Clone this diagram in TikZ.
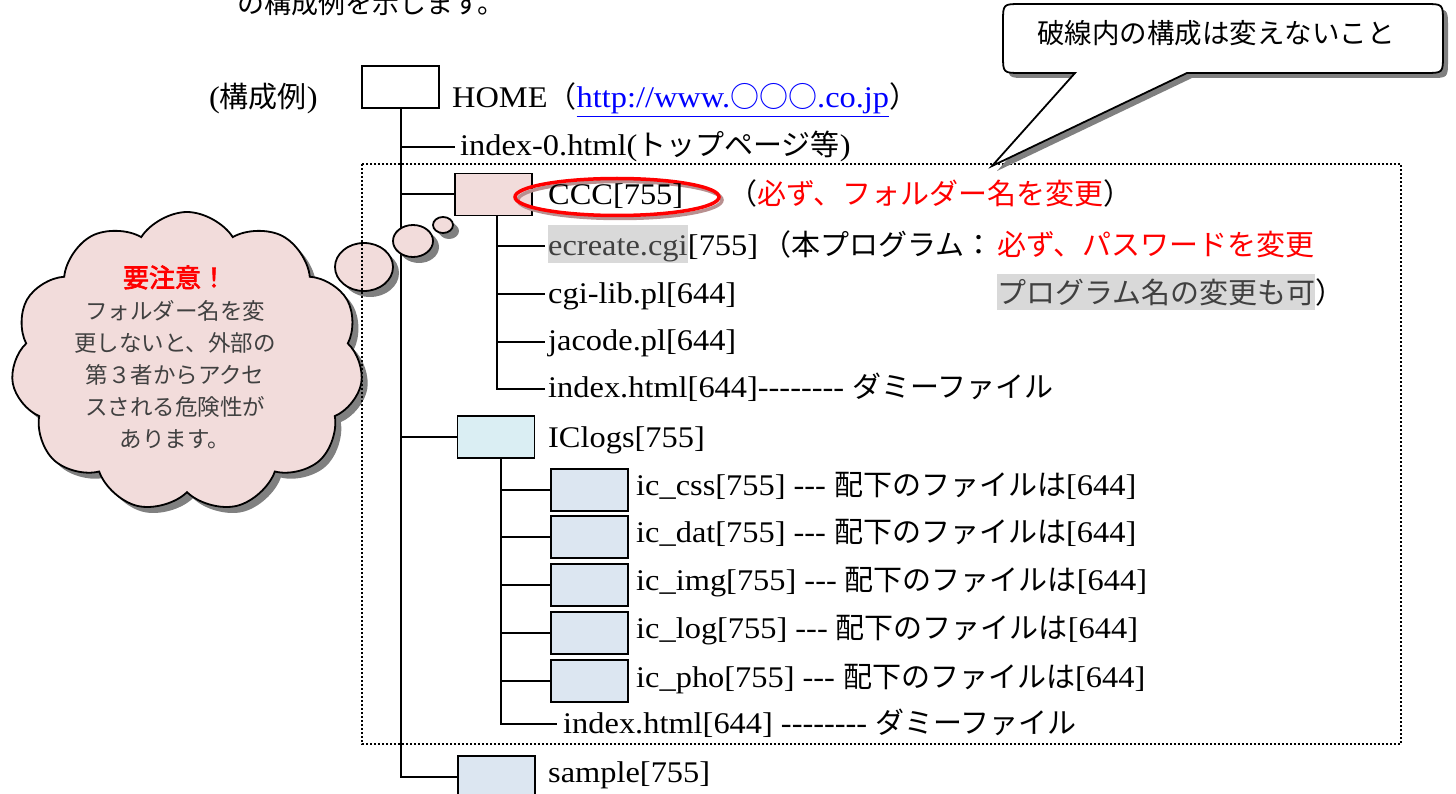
\documentclass[tikz,border=0pt]{standalone}
\usepackage{fontspec}
\setmainfont[FakeStretch=1.08]{Liberation Serif}
\newfontfamily\jp{Noto Sans CJK JP}
\newfontfamily\jpb[FakeBold=2.5]{Noto Sans CJK JP}
\usetikzlibrary{shapes.symbols,shapes.geometric,shadows}
\definecolor{pinkf}{HTML}{F2DCDB}
\definecolor{cyanf}{HTML}{DAEEF3}
\definecolor{bluef}{HTML}{DCE6F1}
\definecolor{hl}{HTML}{D9D9D9}
\definecolor{dgray}{HTML}{404040}
\definecolor{urlblue}{HTML}{0000FF}
\definecolor{redt}{HTML}{FF0000}
\definecolor{shd}{HTML}{808080}
\definecolor{redshd}{HTML}{B89090}
\newcommand\jtx[1]{{\jp\fontsize{29}{34}\selectfont #1}}
\newcommand\msize{\fontsize{30}{36}\selectfont}
\tikzset{
  lbl/.style={anchor=base west, inner sep=0pt, font=\msize},
  folder/.style={draw, line width=1.8pt, minimum width=77pt, minimum height=42pt, inner sep=0pt},
  wire/.style={line width=2pt},
  hlbox/.style={anchor=base west, fill=hl, text=dgray, inner xsep=0pt, inner ysep=0pt},
  shadowed/.style={drop shadow={shadow xshift=6pt, shadow yshift=-6pt, fill=shd, opacity=1}},
  bubble/.style={ellipse, draw, line width=1.8pt, fill=pinkf, inner sep=0pt, shadowed},
}
\begin{document}
\begin{tikzpicture}[x=1pt, y=-1pt]
\useasboundingbox (0,0) rectangle (1456,794);
\clip (0,0) rectangle (1456,794);

% top clipped line of text
\node[anchor=base west, inner sep=0pt] (toptext) at (237,14) {{\jp\fontsize{27}{32}\selectfont の構成例を示します。}};

% folder boxes
\node[folder, fill=white] (home) at (400.5,87) {};
\node[folder, fill=pinkf] (ccc) at (493.5,194.5) {};
\node[folder, fill=cyanf] (iclogs) at (496,437) {};
\node[folder, fill=bluef, line width=2.4pt] (css) at (589.5,490) {};
\node[folder, fill=bluef, line width=2.4pt] (dat) at (589.5,537) {};
\node[folder, fill=bluef, line width=2.4pt] (img) at (589.5,585) {};
\node[folder, fill=bluef, line width=2.4pt] (log) at (589.5,633) {};
\node[folder, fill=bluef, line width=2.4pt] (pho) at (589.5,681) {};
\node[folder, fill=bluef] (sample) at (496.5,777) {};

% tree connectors
\coordinate (i0) at (455,147);
\draw[wire] (home.south) -- (home.south |- sample.west) -- (sample.west);
\draw[wire] (home.south |- i0) -- (i0);
\draw[wire] (home.south |- ccc.west) -- (ccc.west);
\draw[wire] (home.south |- iclogs.west) -- (iclogs.west);

\coordinate (cs) at ([xshift=3.5pt]ccc.south);
\coordinate (e1) at (545,246);
\coordinate (e2) at (545,294);
\coordinate (e3) at (545,342);
\coordinate (e4) at (545,389);
\draw[wire] (cs) |- (e4);
\draw[wire] (cs |- e1) -- (e1);
\draw[wire] (cs |- e2) -- (e2);
\draw[wire] (cs |- e3) -- (e3);

\coordinate (is) at ([xshift=5pt]iclogs.south);
\coordinate (f1) at (557,724);
\draw[wire] (is) |- (f1);
\draw[wire] (is |- css.west) -- (css.west);
\draw[wire] (is |- dat.west) -- (dat.west);
\draw[wire] (is |- img.west) -- (img.west);
\draw[wire] (is |- log.west) -- (log.west);
\draw[wire] (is |- pho.west) -- (pho.west);

% cloud callout
\node[cloud, cloud puffs=11, cloud puff arc=115, aspect=1.15, draw, line width=1.8pt,
      fill=pinkf, minimum width=352pt, minimum height=300pt, shadowed] (cloud) at (187,362) {};
\node[bubble, minimum width=58pt, minimum height=48pt] (b1) at (364,267) {};
\node[bubble, minimum width=40pt, minimum height=32pt, drop shadow={shadow xshift=5pt, shadow yshift=-5pt, fill=shd, opacity=1}] (b2) at (413,241) {};
\node[bubble, minimum width=20pt, minimum height=16pt, drop shadow={shadow xshift=4pt, shadow yshift=-4pt, fill=shd, opacity=1}] (b3) at (443,225) {};
\node[align=center, inner sep=0pt, text=dgray, font=\jp\fontsize{22.5}{32}\selectfont] (warn) at (175,357)
  {{\jpb\fontsize{26}{32}\selectfont\color{redt}要注意！}\\
   フォルダー名を変\\
   更しないと、外部の\\
   第３者からアクセ\\
   スされる危険性が\\
   あります。};

% dotted frame
\draw[line width=2pt, dash pattern=on 2pt off 2pt] (362,164) rectangle (1401,744);

% top-right callout
\path[draw, line width=1.8pt, fill=white, drop shadow={shadow xshift=5pt, shadow yshift=-5pt, fill=shd, opacity=1}]
  (1075,73) -- (992,166) -- (1187,73) -- (1425,73) .. controls (1443,73) .. (1443,55)
  -- (1443,22) .. controls (1443,4) .. (1425,4) -- (1021,4) .. controls (1003,4) .. (1003,22)
  -- (1003,55) .. controls (1003,73) .. (1021,73) -- cycle;
\node[anchor=base, inner sep=0pt] (calltext) at (1216,44) {{\jp\fontsize{27.5}{32}\selectfont 破線内の構成は変えないこと}};

% red ellipse around CCC
\node[ellipse, draw=redshd, line width=3.5pt, minimum width=204pt, minimum height=37pt, inner sep=0pt] (ovs) at (620,200) {};
\node[ellipse, draw=redt, line width=3.5pt, minimum width=204pt, minimum height=37pt, inner sep=0pt] (ov) at (617,197) {};

% texts
\node[lbl] (kousei) at (209,108) {(\jtx{構成例})};
\node[lbl] (hometxt) at (452,108) {HOME\jtx{（}\textcolor{urlblue}{\underline{http://www.\jtx{○○○}.co.jp}}\jtx{）}};
\node[lbl] (idx0) at (460,156) {index-0.html(\jtx{トップページ等})};

\node[lbl] (ccctxt) at (548,205) {CCC[755]};
\node[lbl] (cccnote) at (728,205) {\jtx{（\textcolor{redt}{必ず、フォルダー名を変更}）}};

\node[hlbox, font=\msize, text height=31pt, text depth=7pt] (ecg) at (548,256) {ecreate.cgi};
\node[lbl] (ecp) at (ecg.base east) {[755]};
\node[lbl] (ecn) at (762,256) {\jtx{（本プログラム：}};
\node[lbl] (ecr) at (997,256) {\jtx{\textcolor{redt}{必ず、パスワードを変更}}};
\node[hlbox, text height=29pt, text depth=7pt] (ec2) at (997,303) {\jtx{プログラム名の変更も可}};
\node[lbl] (ec3) at (ec2.base east) {\jtx{）}};

\node[lbl] (cgilib) at (548,303) {cgi-lib.pl[644]};
\node[lbl] (jacode) at (548,350) {jacode.pl[644]};
\node[lbl] (idx1) at (548,397) {index.html[644]-{}-{}-{}-{}-{}-{}-{}- \jtx{ダミーファイル}};

\node[lbl] (iclt) at (548,447) {IClogs[755]};
\node[lbl] (csst) at (636,495) {ic\_css[755] -{}-{}- \jtx{配下のファイルは}[644]};
\node[lbl] (datt) at (636,542) {ic\_dat[755] -{}-{}- \jtx{配下のファイルは}[644]};
\node[lbl] (imgt) at (636,590) {ic\_img[755] -{}-{}- \jtx{配下のファイルは}[644]};
\node[lbl] (logt) at (636,638) {ic\_log[755] -{}-{}- \jtx{配下のファイルは}[644]};
\node[lbl] (phot) at (636,687) {ic\_pho[755] -{}-{}- \jtx{配下のファイルは}[644]};
\node[lbl] (idx2) at (563,733) {index.html[644] -{}-{}-{}-{}-{}-{}-{}- \jtx{ダミーファイル}};
\node[lbl] (samplet) at (548,782) {sample[755]};
\end{tikzpicture}
\end{document}
